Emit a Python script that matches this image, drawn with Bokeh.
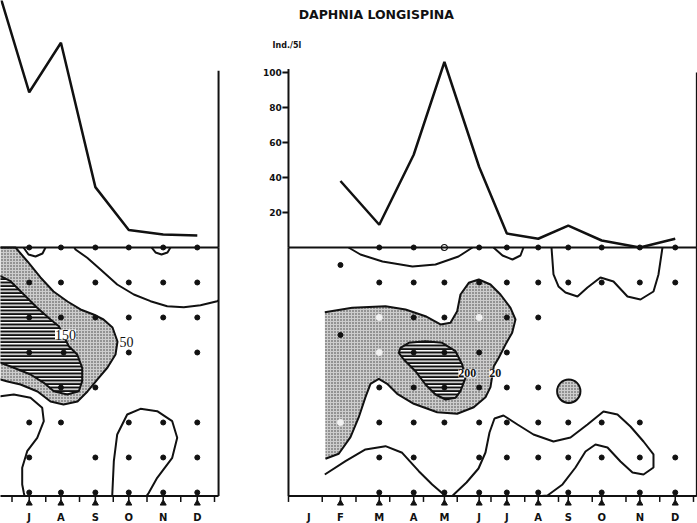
from bokeh.plotting import figure
from bokeh.models import Range1d
from bokeh.core.properties import value
from bokeh.embed import file_html
from bokeh.resources import INLINE

# ---------------- data ----------------
TITLE = "DAPHNIA   LONGISPINA"
UNIT_LABEL = "Ind./5l"
MONTH_LETTERS = ["J", "F", "M", "A", "M", "J", "J", "A", "S", "O", "N", "D"]
Y_TICKS = [20, 40, 60, 80, 100]
MONTH_BOUNDS = list(range(0, 13))

# right panel (whole year); x = months from 1 January, depth in m
right_sample_month = [1.54, 2.69, 3.71, 4.62, 5.65, 6.47, 7.40, 8.29, 9.28, 10.41, 11.46]
right_abundance = [38, 13, 53, 106, 46, 8, 5, 12.5, 4, 0, 5]
right_label_month = [0.6] + right_sample_month

right_dots_by_depth = {
    0: [2.69, 3.71, 5.65, 6.47, 7.40, 8.29, 9.28, 10.41, 11.46],
    0.5: [1.54],
    1: [2.69, 3.71, 4.62, 5.65, 6.47, 7.40, 8.29, 9.28, 10.41, 11.46],
    2: [3.71, 4.62, 6.47, 7.40],
    2.5: [1.54],
    3: [3.71, 4.62, 5.65, 6.47],
    4: [2.69, 3.71, 4.62, 5.65, 6.47, 7.40],
    5: [2.69, 3.71, 4.62, 5.65, 6.47, 7.40, 8.29, 9.28, 10.41],
    6: [2.69, 3.71, 5.65, 6.47, 7.40, 8.29, 9.28, 10.41, 11.46],
    7: [2.69, 3.71, 4.62, 5.65, 6.47, 7.40, 8.29, 9.28, 10.41, 11.46],
}
right_pale_month = [2.69, 2.69, 5.65, 1.54]
right_pale_depth = [2, 3, 2, 5]
right_ring_month = [4.62]
right_ring_depth = [0]

# isolines
r_top_m = [1.778, 2.133, 2.785, 3.674, 4.356, 5.037, 5.452]
r_top_d = [0, 0.2, 0.4, 0.543, 0.486, 0.257, 0]
r_jul_m = [6.074, 6.341, 6.637, 6.874, 6.963]
r_jul_d = [0, 0.229, 0.343, 0.229, 0]
r_aut_m = [7.793, 7.852, 8.0, 8.207, 8.563, 8.859, 9.244, 9.630, 10.044, 10.430, 10.815, 10.963, 11.081]
r_aut_d = [0, 0.771, 1.114, 1.286, 1.4, 1.143, 0.857, 0.971, 1.4, 1.486, 1.257, 0.771, 0]
r_bl_m = [1.076, 1.689, 2.281, 2.874, 3.369, 3.861, 4.258, 4.601, 4.68]
r_bl_d = [6.486, 6.106, 5.771, 5.677, 5.866, 6.391, 6.771, 7.057, 7.1]
r_br_m = [4.86, 4.898, 5.274, 5.630, 5.837, 5.956, 6.104, 6.370, 6.785, 7.259, 7.852, 8.356, 8.859,
          9.333, 9.748, 10.133, 10.519, 10.815, 10.815, 10.519, 10.193, 9.837, 9.452, 9.096, 8.8,
          8.504, 8.119, 7.674, 7.5]
r_br_d = [7.1, 7.057, 6.714, 6.314, 5.857, 5.286, 4.886, 4.8, 5.057, 5.343, 5.543, 5.429, 5.057,
          4.686, 4.771, 5.114, 5.543, 5.914, 6.286, 6.486, 6.429, 6.114, 5.714, 5.629, 5.829,
          6.286, 6.771, 7.086, 7.1]
r_low_m = [1.076, 1.887, 2.874, 3.467, 4.059, 4.504, 4.8, 4.998, 5.096, 5.342, 5.639, 5.985, 6.281,
           6.578, 6.726, 6.628, 6.430, 6.231, 6.084, 5.985, 5.837, 5.490, 4.998, 4.406, 3.713,
           3.221, 2.924, 2.676, 2.430, 2.281, 2.083, 1.837, 1.490, 1.096]
r_low_d = [1.849, 1.723, 1.677, 1.771, 1.963, 2.2, 2.151, 1.820, 1.343, 1.009, 0.914, 1.057, 1.343,
           1.723, 2.057, 2.437, 2.771, 3.151, 3.391, 3.991, 4.277, 4.563, 4.751, 4.706, 4.466,
           4.180, 3.894, 3.751, 3.894, 4.277, 4.849, 5.420, 5.894, 6.037]
r_high_m = [3.319, 3.564, 4.059, 4.554, 4.948, 5.147, 5.244, 5.096, 4.948, 4.652, 4.356, 4.059,
            3.763, 3.416, 3.268]
r_high_d = [2.866, 2.723, 2.677, 2.723, 2.963, 3.343, 3.723, 4.106, 4.294, 4.343, 4.2, 3.914,
            3.534, 3.2, 3.009]
r_spot_m, r_spot_d, r_spot_w, r_spot_h = [8.305], [4.106], [0.69], [0.67]
r_level_text = ["200", "20"]
r_level_m = [5.30, 6.13]
r_level_d = [3.6, 3.6]

# left panel (second half of the year only)
left_sample_month = [5.55, 6.51, 7.45, 8.47, 9.46, 10.48, 11.49]
left_abundance = [150, 88.7, 117, 34.5, 10, 7.4, 6.9]
left_label_letters = ["J", "A", "S", "O", "N", "D"]
left_label_month = [6.51, 7.45, 8.47, 9.46, 10.48, 11.49]
left_bounds = [6, 7, 8, 9, 10, 11, 12]

left_dots_by_depth = {
    0: [6.51, 7.45, 8.47, 9.46, 10.48, 11.49],
    1: [6.51, 7.45, 8.47, 9.46, 10.48, 11.49],
    2: [6.51, 7.45, 8.47, 9.46, 10.48, 11.49],
    3: [6.51, 7.53, 9.46, 11.49],
    4: [7.45, 8.47],
    5: [6.51, 7.45, 9.46, 10.48, 11.49],
    6: [6.51, 8.47, 9.46, 10.48, 11.49],
    7: [6.51, 7.45, 8.47, 9.46, 10.48, 11.49],
}
l_jarc_m = [6.341, 6.489, 6.696, 6.904, 6.993]
l_jarc_d = [0, 0.2, 0.257, 0.171, 0]
l_narc_m = [10.133, 10.252, 10.430, 10.607, 10.696]
l_narc_d = [0, 0.143, 0.2, 0.143, 0]
l_aut_m = [7.85, 7.881, 8.228, 8.622, 9.117, 9.610, 10.104, 10.598, 11.090, 11.585, 12.079, 12.12]
l_aut_d = [0, 0.057, 0.294, 0.629, 1.057, 1.343, 1.534, 1.677, 1.706, 1.649, 1.534, 1.514]
l_low_m = [5.215, 6.104, 6.459, 6.844, 7.230, 7.644, 8.030, 8.415, 8.711, 8.978, 9.126, 9.067,
           8.830, 8.533, 8.237, 7.941, 7.526, 7.141, 6.756, 6.252, 5.867, 5.659, 5.215]
l_low_d = [0, 0, 0.4, 0.857, 1.257, 1.543, 1.771, 1.914, 2.057, 2.286, 2.686, 3.057, 3.429,
           3.771, 4.114, 4.4, 4.486, 4.4, 4.114, 3.914, 3.829, 3.771, 3.75]
l_high_m = [5.215, 5.659, 5.956, 6.350, 6.747, 7.141, 7.387, 7.682, 7.932, 8.080, 8.080, 7.979,
            7.636, 7.239, 6.942, 6.548, 6.053, 5.659, 5.215]
l_high_d = [0.7, 0.820, 0.963, 1.343, 1.723, 2.057, 2.249, 2.820, 3.057, 3.437, 3.820, 4.106,
            4.2, 4.106, 3.866, 3.629, 3.437, 3.294, 3.2]
l_bl_m = [5.215, 5.659, 6.053, 6.548, 6.895, 6.942, 6.747, 6.450, 6.302, 6.302, 6.350, 6.370]
l_bl_d = [4.25, 4.249, 4.2, 4.294, 4.580, 4.963, 5.437, 5.820, 6.294, 6.771, 7.009, 7.1]
l_loop_m = [8.969, 9.017, 9.117, 9.413, 9.807, 10.302, 10.747, 10.895, 10.747, 10.302, 10.053, 9.985]
l_loop_d = [7.1, 6.106, 5.343, 4.771, 4.609, 4.677, 4.963, 5.437, 6.009, 6.580, 7.009, 7.1]
l_level_text = ["150", "50"]
l_level_m = [7.585, 9.393]
l_level_d = [2.486, 2.686]

# ---------------- figure ----------------
W, H = 697, 523
BOTTOM = 7.1      # depth of bottom axis line
RIGHT_END = 12.1

p = figure(width=W, height=H, output_backend="svg", toolbar_location=None,
           x_axis_location=None, y_axis_location=None, min_border=0,
           x_range=Range1d(-8.533, 12.119), y_range=Range1d(-157.71, 141.14))
p.extra_x_ranges = {"L": Range1d(5.659, 26.311)}
p.extra_y_ranges = {"D": Range1d(7.886, -7.057)}
p.xgrid.visible = False
p.ygrid.visible = False
p.outline_line_color = None
p.background_fill_color = "white"
p.border_fill_color = "white"

INK = "#111111"
STIP = dict(fill_color="#cdcdcd", hatch_pattern="dot", hatch_color="#3a3a3a",
            hatch_scale=3, hatch_weight=1.2, line_color=None)
HATCH = dict(fill_color="white", hatch_pattern="horizontal_line", hatch_color=INK,
             hatch_scale=3.5, hatch_weight=2.6)
sans = value("DejaVu Sans")


def flat(rows):
    xs, ys = [], []
    for d, ms in rows.items():
        xs += ms
        ys += [d] * len(ms)
    return xs, ys


for xr, low_m, low_d, high_m, high_d in (("default", r_low_m, r_low_d, r_high_m, r_high_d),
                                         ("L", l_low_m, l_low_d, l_high_m, l_high_d)):
    p.patch(low_m, low_d, x_range_name=xr, y_range_name="D", **STIP)
    p.line(low_m, low_d, x_range_name=xr, y_range_name="D", line_color=INK, line_width=2)
    p.patch(high_m, high_d, x_range_name=xr, y_range_name="D", line_color=INK, line_width=2, **HATCH)

p.ellipse(r_spot_m, r_spot_d, width=r_spot_w, height=r_spot_h, y_range_name="D",
          line_color=INK, line_width=2, **{k: v for k, v in STIP.items() if k != "line_color"})

for xs, ds in ((r_top_m, r_top_d), (r_jul_m, r_jul_d), (r_aut_m, r_aut_d), (r_bl_m, r_bl_d), (r_br_m, r_br_d)):
    p.line(xs, ds, y_range_name="D", line_color=INK, line_width=2)
for xs, ds in ((l_jarc_m, l_jarc_d), (l_narc_m, l_narc_d), (l_aut_m, l_aut_d), (l_bl_m, l_bl_d), (l_loop_m, l_loop_d)):
    p.line(xs, ds, x_range_name="L", y_range_name="D", line_color=INK, line_width=2)

# sampling points
rx, ry = flat(right_dots_by_depth)
p.scatter(rx, ry, y_range_name="D", size=5, color=INK)
p.scatter(right_pale_month, right_pale_depth, y_range_name="D", size=6, color="#f2f2f2")
p.scatter(right_ring_month, right_ring_depth, y_range_name="D", size=6, fill_color="white",
          line_color=INK, line_width=1.2)
lx, ly = flat(left_dots_by_depth)
p.scatter(lx, ly, x_range_name="L", y_range_name="D", size=5, color=INK)

# level labels
p.text(r_level_m, r_level_d, text=r_level_text, y_range_name="D", text_font=value("Liberation Serif"),
       text_font_size="12px", text_font_style="bold", text_align="center", text_baseline="middle",
       text_color=INK, background_fill_color="white", padding=0)
p.text(l_level_m, l_level_d, text=l_level_text, x_range_name="L", y_range_name="D",
       text_font=value("Liberation Serif"), text_font_size="14px", text_align="center",
       text_baseline="middle", text_color=INK, background_fill_color="white", padding=0)

# abundance curves
p.line(right_sample_month, right_abundance, line_color=INK, line_width=2.5)
p.line(left_sample_month, left_abundance, x_range_name="L", line_color=INK, line_width=2.5)

# frames
p.line([0, RIGHT_END], [0, 0], line_color=INK, line_width=2)
p.line([5.2, 12.12], [0, 0], x_range_name="L", line_color=INK, line_width=2)
p.line([0, 0], [0, 102], line_color=INK, line_width=2)
p.line([0, 0], [0, BOTTOM], y_range_name="D", line_color=INK, line_width=2)
p.line([RIGHT_END, RIGHT_END], [0, 100], line_color=INK, line_width=2)
p.line([RIGHT_END, RIGHT_END], [0, BOTTOM], y_range_name="D", line_color=INK, line_width=2)
p.line([12.12, 12.12], [0, 101], x_range_name="L", line_color=INK, line_width=2)
p.line([12.12, 12.12], [0, BOTTOM], x_range_name="L", y_range_name="D", line_color=INK, line_width=2)
p.line([0, RIGHT_END], [BOTTOM, BOTTOM], y_range_name="D", line_color=INK, line_width=2)
p.line([5.2, 12.12], [BOTTOM, BOTTOM], x_range_name="L", y_range_name="D", line_color=INK, line_width=2)

# y ticks and labels
p.segment(x0=[-0.18] * len(Y_TICKS), y0=Y_TICKS, x1=[0] * len(Y_TICKS), y1=Y_TICKS,
          line_color=INK, line_width=2)
p.text([-0.2] * len(Y_TICKS), Y_TICKS, text=[str(v) for v in Y_TICKS], text_font=sans,
       text_font_style="bold", text_font_size="9px", text_align="right", text_baseline="middle",
       text_color=INK)
p.text([-0.47], [115.4], text=[UNIT_LABEL], text_font=sans, text_font_style="bold",
       text_font_size="8px", text_align="left", text_baseline="middle", text_color=INK)
p.text([2.73], [133.1], text=[TITLE], text_font=sans, text_font_style="bold",
       text_font_size="12.5px", text_align="center", text_baseline="middle", text_color=INK)

# month axis decorations
for xr, bounds, samples, lab_x, lab_t in (("default", MONTH_BOUNDS, right_sample_month, right_label_month, MONTH_LETTERS),
                                          ("L", left_bounds, left_label_month, left_label_month, left_label_letters)):
    p.segment(x0=bounds, y0=[BOTTOM] * len(bounds), x1=bounds, y1=[7.27] * len(bounds),
              x_range_name=xr, y_range_name="D", line_color=INK, line_width=1.5)
    p.segment(x0=samples, y0=[BOTTOM] * len(samples), x1=samples, y1=[7.25] * len(samples),
              x_range_name=xr, y_range_name="D", line_color=INK, line_width=1.5)
    p.scatter(samples, [7.31] * len(samples), marker="triangle", size=6, color=INK,
              x_range_name=xr, y_range_name="D")
    p.text(lab_x, [7.71] * len(lab_x), text=lab_t, x_range_name=xr, y_range_name="D",
           text_font=sans, text_font_style="bold", text_font_size="10px", text_align="center",
           text_baseline="middle", text_color=INK)

open("out.html", "w").write(file_html(p, INLINE))
